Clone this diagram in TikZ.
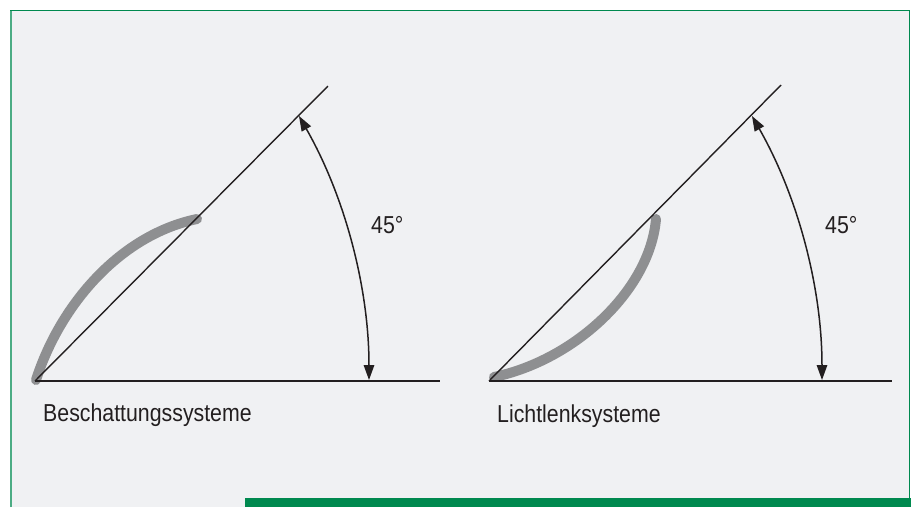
\documentclass[tikz,border=0pt]{standalone}
\usepackage{fontspec}
\setmainfont{Liberation Sans}[FakeStretch=0.87]
\usetikzlibrary{arrows.meta}
\definecolor{bggray}{HTML}{F0F1F3}
\definecolor{frgreen}{HTML}{00894F}
\definecolor{curvegray}{HTML}{8E8F91}
\definecolor{ink}{HTML}{231F20}
\tikzset{
  hline/.style={draw=ink, line width=2.2pt},
  diagline/.style={draw=ink, line width=1.4pt},
  anglearc/.style={draw=ink, line width=1.5pt, {Triangle[length=15pt,width=10.5pt]}-{Triangle[length=15pt,width=10.5pt]}},
  shade/.style={draw=curvegray, line width=10pt, line cap=round},
  lbl/.style={text=ink, font=\fontsize{24.5}{28}\selectfont, inner sep=0pt, anchor=base west},
}
\begin{document}
\begin{tikzpicture}[x=1pt,y=-1pt]
\useasboundingbox (0,0) rectangle (914,507);
\fill[white] (0,0) rectangle (914,507);
\fill[bggray] (10,10) rectangle (909.5,507);
\draw[frgreen!70, line width=2pt] (10.8,507) -- (10.8,10);
\draw[frgreen, line width=1.5pt] (10,10.6) -- (909.5,10.6) -- (909.5,498);
\fill[frgreen] (245,498) rectangle (911,507);

% left diagram
\coordinate (O1) at (35,381);
\coordinate (H1) at (440,381);
\coordinate (D1) at (328,86);
\coordinate (G1s) at (36,380);
\coordinate (G1e) at (197,219);
\draw[shade] (G1s) .. controls (60,305) and (120,235) .. (G1e);
\draw[diagline] (O1) -- (D1);
\draw[hline] (O1) -- (H1);
\coordinate (B1) at (369,380);
\draw[anglearc] (B1) arc[start angle=0, end angle=-29.7, radius=533];
\node[lbl] (a1) at (371,233) {45°};
\node[lbl] (t1) at (43,421) {Beschattungssysteme};

% right diagram
\coordinate (O2) at (489,381);
\coordinate (H2) at (892,381);
\coordinate (D2) at (781,85);
\coordinate (G2s) at (494,377);
\coordinate (G2e) at (656,219);
\draw[shade] (G2s) .. controls (575,360) and (650,290) .. (G2e);
\draw[diagline] (O2) -- (D2);
\draw[hline] (O2) -- (H2);
\coordinate (B2) at (822,380);
\draw[anglearc] (B2) arc[start angle=0, end angle=-29.7, radius=533];
\node[lbl] (a2) at (825,233) {45°};
\node[lbl] (t2) at (497,422) {Lichtlenksysteme};
\end{tikzpicture}
\end{document}
